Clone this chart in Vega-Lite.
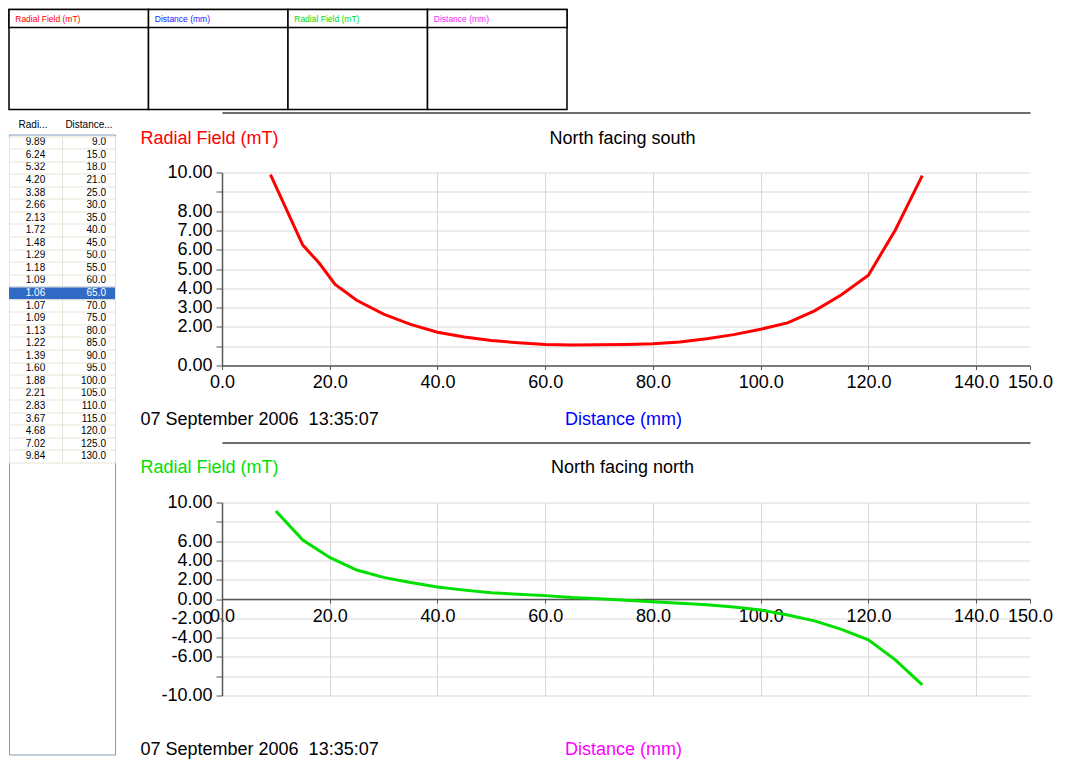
{
  "$schema": "https://vega.github.io/schema/vega-lite/v6.json",
  "padding": {"left": 8, "top": 8.5, "right": 0, "bottom": 0},
  "background": "white",
  "config": {
    "view": {"stroke": null},
    "font": "Liberation Sans",
    "axis": {"labelOverlap": false, "labelFlush": false, "labelBound": false, "titleFontWeight": "normal", "labelFont": "Liberation Sans", "titleFont": "Liberation Sans"}
  },
  "datasets": {
    "south": [
      {"Distance": 9, "Radial": 9.89}, {"Distance": 15, "Radial": 6.24}, {"Distance": 18, "Radial": 5.32},
      {"Distance": 21, "Radial": 4.20}, {"Distance": 25, "Radial": 3.38}, {"Distance": 30, "Radial": 2.66},
      {"Distance": 35, "Radial": 2.13}, {"Distance": 40, "Radial": 1.72}, {"Distance": 45, "Radial": 1.48},
      {"Distance": 50, "Radial": 1.29}, {"Distance": 55, "Radial": 1.18}, {"Distance": 60, "Radial": 1.09},
      {"Distance": 65, "Radial": 1.06}, {"Distance": 70, "Radial": 1.07}, {"Distance": 75, "Radial": 1.09},
      {"Distance": 80, "Radial": 1.13}, {"Distance": 85, "Radial": 1.22}, {"Distance": 90, "Radial": 1.39},
      {"Distance": 95, "Radial": 1.60}, {"Distance": 100, "Radial": 1.88}, {"Distance": 105, "Radial": 2.21},
      {"Distance": 110, "Radial": 2.83}, {"Distance": 115, "Radial": 3.67}, {"Distance": 120, "Radial": 4.68},
      {"Distance": 125, "Radial": 7.02}, {"Distance": 130, "Radial": 9.84}
    ],
    "north": [
      {"Distance": 10, "Radial": 9.13}, {"Distance": 15, "Radial": 6.10}, {"Distance": 20, "Radial": 4.31},
      {"Distance": 25, "Radial": 3.00}, {"Distance": 30, "Radial": 2.24}, {"Distance": 35, "Radial": 1.70},
      {"Distance": 40, "Radial": 1.24}, {"Distance": 45, "Radial": 0.92}, {"Distance": 50, "Radial": 0.66},
      {"Distance": 55, "Radial": 0.48}, {"Distance": 60, "Radial": 0.35}, {"Distance": 65, "Radial": 0.15},
      {"Distance": 70, "Radial": 0.03}, {"Distance": 75, "Radial": -0.12}, {"Distance": 80, "Radial": -0.28},
      {"Distance": 85, "Radial": -0.43}, {"Distance": 90, "Radial": -0.59}, {"Distance": 95, "Radial": -0.84},
      {"Distance": 100, "Radial": -1.14}, {"Distance": 105, "Radial": -1.65}, {"Distance": 110, "Radial": -2.27},
      {"Distance": 115, "Radial": -3.14}, {"Distance": 120, "Radial": -4.24}, {"Distance": 125, "Radial": -6.30},
      {"Distance": 130, "Radial": -8.90}
    ],
    "headers": [
      {"col": 1, "label": "Radial Field (mT)"},
      {"col": 2, "label": "Distance (mm)"},
      {"col": 3, "label": "Radial Field (mT)"},
      {"col": 4, "label": "Distance (mm)"}
    ]
  },
  "bounds": "flush",
  "spacing": 25,
  "vconcat": [
    {
      "width": 558,
      "height": 100,
      "data": {"name": "headers"},
      "layer": [
        {
          "mark": {"type": "rect", "fill": "white", "stroke": "black", "strokeWidth": 1.5},
          "encoding": {
            "x": {"field": "col", "type": "ordinal", "scale": {"paddingInner": 0, "paddingOuter": 0}, "axis": null},
            "y": {"value": 0},
            "y2": {"value": "height"}
          }
        },
        {
          "mark": {"type": "rect", "fill": "white", "stroke": "black", "strokeWidth": 1.5},
          "encoding": {
            "x": {"field": "col", "type": "ordinal", "axis": null},
            "y": {"value": 0},
            "y2": {"value": 18}
          }
        },
        {
          "mark": {"type": "text", "align": "left", "baseline": "middle", "dx": -63.5, "fontSize": 8.5},
          "encoding": {
            "x": {"field": "col", "type": "ordinal", "axis": null},
            "y": {"value": 9},
            "text": {"field": "label"},
            "color": {"field": "col", "type": "nominal", "scale": {"range": ["#FF0000", "#2020FF", "#00DD00", "#FF20FF"]}, "legend": null}
          }
        }
      ]
    },
    {
      "bounds": "flush",
      "spacing": 107,
      "hconcat": [
        {
          "width": 106,
          "height": 620,
          "data": {"name": "south"},
          "view": {"stroke": "#7F9DB9"},
          "encoding": {
            "y": {
              "field": "Distance", "type": "ordinal",
              "scale": {"paddingInner": 0, "paddingOuter": 0, "range": [1.5, 328]},
              "axis": {"labels": false, "ticks": false, "domain": false, "grid": true, "gridColor": "#E6E4D6", "tickBand": "extent", "title": null}
            }
          },
          "layer": [
            {
              "transform": [{"filter": "datum.Distance == 65"}],
              "mark": {"type": "rect", "fill": "#316AC5"},
              "encoding": {"x": {"value": 0}, "x2": {"value": "width"}}
            },
            {
              "mark": {"type": "text", "fontSize": 10, "align": "center"},
              "encoding": {
                "x": {
                  "datum": "Radi...", "type": "ordinal",
                  "scale": {"domain": ["Radi...", "Distance..."], "paddingInner": 0, "paddingOuter": 0},
                  "axis": {
                    "orient": "top", "title": null, "tickBand": "extent", "labelAngle": 0, "labelAlign": "center",
                    "labelOffset": {"condition": {"test": "datum.value == 'Radi...'", "value": -3}, "value": 0},
                    "labelPadding": 7, "ticks": false, "tickSize": 0, "domain": false, "grid": true, "gridColor": "#E6E4D6",
                    "labelFontSize": 10, "labelColor": "black", "labelBaseline": "alphabetic"
                  }
                },
                "text": {"field": "Radial", "format": ".2f"},
                "color": {"condition": {"test": "datum.Distance == 65", "value": "white"}, "value": "black"}
              }
            },
            {
              "mark": {"type": "text", "fontSize": 10, "align": "right", "dx": 17.5},
              "encoding": {
                "x": {"datum": "Distance...", "type": "ordinal"},
                "text": {"field": "Distance", "format": ".1f"},
                "color": {"condition": {"test": "datum.Distance == 65", "value": "white"}, "value": "black"}
              }
            }
          ]
        },
        {
          "bounds": "flush",
          "spacing": 0,
          "vconcat": [
            {
              "width": 808,
              "height": 37.5,
              "data": {"values": []},
              "mark": {"type": "rect", "opacity": 0}
            },
            {
              "bounds": "flush",
              "spacing": 137,
              "vconcat": [
                {
                  "width": 808,
                  "height": 193,
                  "data": {"name": "south"},
                  "resolve": {"axis": {"x": "independent", "y": "independent"}},
                  "layer": [
                    {
                      "mark": {"type": "line", "color": "#FF0000", "strokeWidth": 3},
                      "encoding": {
                        "x": {
                          "field": "Distance", "type": "quantitative",
                          "scale": {"domain": [0, 150], "nice": false, "zero": false},
                          "axis": {
                            "values": [0, 20, 40, 60, 80, 100, 120, 140, 150], "format": ".1f",
                            "labelFontSize": 18, "labelColor": "black", "labelPadding": 4,
                            "tickSize": 4, "tickColor": "#555555", "domainColor": "#555555", "domainWidth": 1.5,
                            "grid": true, "gridColor": {"condition": {"test": "datum.value == 150", "value": "transparent"}, "value": "#D9D9D9"},
                            "title": "Distance (mm)", "titleColor": "#0000FF", "titleFontSize": 18,
                            "titleX": 401, "titleY": 59, "titleAlign": "center", "titleBaseline": "alphabetic"
                          }
                        },
                        "y": {
                          "field": "Radial", "type": "quantitative",
                          "scale": {"domain": [0, 10], "nice": false},
                          "axis": {
                            "values": [0, 1, 2, 3, 4, 5, 6, 7, 8, 9, 10],
                            "labelExpr": "datum.value == 1 || datum.value == 9 ? '' : format(datum.value, '.2f')",
                            "labelFontSize": 18, "labelColor": "black", "labelPadding": 4,
                            "tickSize": 6, "tickColor": "#555555", "domainColor": "#555555", "domainWidth": 1.5,
                            "grid": true, "gridColor": "#D9D9D9",
                            "title": "Radial Field (mT)", "titleColor": "#FF0000", "titleFontSize": 18,
                            "titleAngle": 0, "titleAlign": "left", "titleBaseline": "alphabetic", "titleX": -82, "titleY": -29
                          }
                        }
                      }
                    },
                    {
                      "mark": {"type": "line", "opacity": 0},
                      "encoding": {
                        "x": {
                          "field": "Distance", "type": "quantitative",
                          "axis": {
                            "orient": "top", "offset": 60, "labels": false, "ticks": false, "grid": false,
                            "domain": true, "domainColor": "#6E6E6E", "domainWidth": 2,
                            "title": "North facing south", "titleColor": "black", "titleFontSize": 18,
                            "titleX": 400, "titleY": 31, "titleAlign": "center", "titleBaseline": "alphabetic"
                          }
                        },
                        "y": {
                          "field": "Radial", "type": "quantitative",
                          "axis": {
                            "orient": "right", "labels": false, "ticks": false, "grid": false, "domain": false,
                            "title": "07 September 2006 \u00a013:35:07", "titleColor": "black", "titleFontSize": 18,
                            "titleAngle": 0, "titleAlign": "left", "titleBaseline": "alphabetic", "titleX": -890, "titleY": 252
                          }
                        }
                      }
                    }
                  ]
                },
                {
                  "width": 808,
                  "height": 193,
                  "data": {"name": "north"},
                  "resolve": {"axis": {"x": "independent", "y": "independent"}},
                  "layer": [
                    {
                      "mark": {"type": "line", "color": "#00E000", "strokeWidth": 3},
                      "encoding": {
                        "x": {
                          "field": "Distance", "type": "quantitative",
                          "scale": {"domain": [0, 150], "nice": false, "zero": false},
                          "axis": {
                            "values": [0, 20, 40, 60, 80, 100, 120, 140, 150], "format": ".1f",
                            "offset": -96.5,
                            "labelFontSize": 18, "labelColor": "black", "labelPadding": 4,
                            "tickSize": 4, "tickColor": "#555555", "domainColor": "#555555", "domainWidth": 1.5,
                            "grid": true, "gridColor": {"condition": {"test": "datum.value == 150", "value": "transparent"}, "value": "#D9D9D9"},
                            "title": "Distance (mm)", "titleColor": "#FF00FF", "titleFontSize": 18,
                            "titleX": 401, "titleY": 155.5, "titleAlign": "center", "titleBaseline": "alphabetic"
                          }
                        },
                        "y": {
                          "field": "Radial", "type": "quantitative",
                          "scale": {"domain": [-10, 10], "nice": false},
                          "axis": {
                            "values": [-10, -8, -6, -4, -2, 0, 2, 4, 6, 8, 10],
                            "labelExpr": "abs(datum.value) == 8 ? '' : replace(format(datum.value, '.2f'), '\u2212', '-')",
                            "labelFontSize": 18, "labelColor": "black", "labelPadding": 4,
                            "tickSize": 6, "tickColor": "#555555", "domainColor": "#555555", "domainWidth": 1.5,
                            "grid": true, "gridColor": "#D9D9D9",
                            "title": "Radial Field (mT)", "titleColor": "#00E000", "titleFontSize": 18,
                            "titleAngle": 0, "titleAlign": "left", "titleBaseline": "alphabetic", "titleX": -82, "titleY": -30
                          }
                        }
                      }
                    },
                    {
                      "mark": {"type": "line", "opacity": 0},
                      "encoding": {
                        "x": {
                          "field": "Distance", "type": "quantitative",
                          "axis": {
                            "orient": "top", "offset": 60, "labels": false, "ticks": false, "grid": false,
                            "domain": true, "domainColor": "#6E6E6E", "domainWidth": 2,
                            "title": "North facing north", "titleColor": "black", "titleFontSize": 18,
                            "titleX": 400, "titleY": 30, "titleAlign": "center", "titleBaseline": "alphabetic"
                          }
                        },
                        "y": {
                          "field": "Radial", "type": "quantitative",
                          "axis": {
                            "orient": "right", "labels": false, "ticks": false, "grid": false, "domain": false,
                            "title": "07 September 2006 \u00a013:35:07", "titleColor": "black", "titleFontSize": 18,
                            "titleAngle": 0, "titleAlign": "left", "titleBaseline": "alphabetic", "titleX": -890, "titleY": 252
                          }
                        }
                      }
                    }
                  ]
                }
              ]
            }
          ]
        }
      ]
    }
  ]
}
